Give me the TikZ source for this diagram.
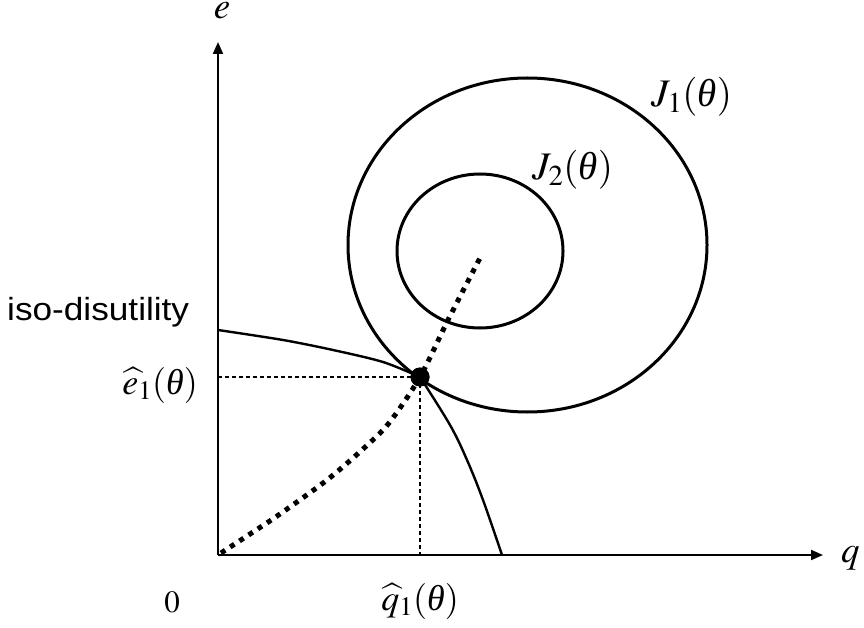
\documentclass[tikz,border=0pt]{standalone}
\usepackage{mathptmx}
\usepackage[no-math]{fontspec}
\setmainfont{Liberation Serif}
\newfontfamily\arialfont{Liberation Sans}
\usetikzlibrary{arrows.meta}
\newcommand{\thetait}{\mbox{\itshape θ}}
\tikzset{
  axis/.style={line width=2pt,-{Triangle[length=12pt,width=10pt]}},
  ring/.style={line width=3pt},
  isocurve/.style={line width=2.4pt},
  guide/.style={line width=1.2pt,dash pattern=on 4pt off 3pt},
  dotpath/.style={line width=5pt,dash pattern=on 5pt off 6pt},
  lbl/.style={inner sep=0pt,font=\fontsize{36}{42}\selectfont},
  biglbl/.style={inner sep=0pt,font=\fontsize{39}{45}\selectfont},
}
\begin{document}
\begin{tikzpicture}[x=1pt,y=-1pt]
\useasboundingbox (0,0) rectangle (864,628);
% axes
\coordinate (O) at (218,555);
\coordinate (Etip) at (218,42);
\coordinate (Qtip) at (823,555);
\node[circle,fill=black,inner sep=0pt,minimum size=19pt] (dot) at (420,377) {};
% level sets
\draw[ring] (527.5,245) ellipse [x radius=179.5, y radius=167];
\draw[ring] (480,251) ellipse [x radius=83, y radius=77];
% dotted path
\draw[dotpath] plot[smooth] coordinates {(221,553) (250,534) (280,514) (327,480) (363,449) (389,423) (dot.center) (448,320) (480,258)};
% iso-disutility curve
\draw[isocurve] plot[smooth] coordinates {(218,330) (283,340) (333,350) (383,362) (dot.center)};
\draw[isocurve] plot[smooth,tension=0.6] coordinates {(dot.center) (450,425) (467,460) (483,500) (502,555)};
% guides
\draw[guide] (O |- dot) -- (dot.center);
\draw[guide] (dot.center) -- (dot |- O);
\draw[axis] (O) -- (Etip);
\draw[axis] (O) -- (Qtip);
\node[circle,fill=black,inner sep=0pt,minimum size=19pt] at (dot) {};
% labels
\node[lbl,anchor=base,font=\fontsize{37}{42}\selectfont] (elab) at (222,19) {$e$};
\node[lbl,anchor=base west,font=\fontsize{37}{42}\selectfont] (qlab) at (841,562) {$q$};
\node[lbl,anchor=base,font=\fontsize{31}{36}\selectfont] (zero) at (172,612) {$0$};
\node[lbl,anchor=base east] (ehat) at (198,394) {$\widehat{e}_1(\thetait)$};
\node[lbl,anchor=base] (qhat) at (420,610) {$\widehat{q}_1(\thetait)$};
\node[biglbl,anchor=base west] (J1) at (651,107) {$J_1(\thetait)$};
\node[biglbl,anchor=base west] (J2) at (532,180) {$J_2(\thetait)$};
\node[inner sep=0pt,anchor=base west,font=\arialfont\fontsize{32}{38}\selectfont,xscale=1.1] (iso) at (7,320) {iso-disutility};
\end{tikzpicture}
\end{document}
